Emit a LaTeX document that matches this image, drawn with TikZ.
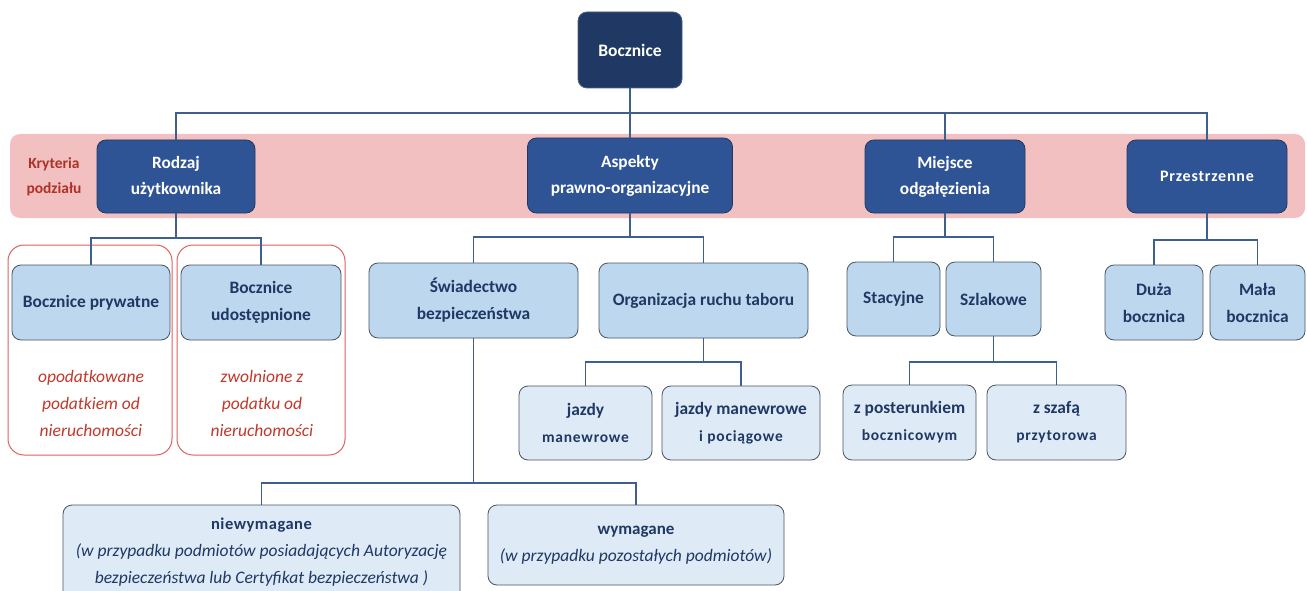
\documentclass[tikz,border=0pt]{standalone}
\usepackage{fontspec}
\setmainfont{Carlito}
\definecolor{navy}{HTML}{1F3864}
\definecolor{midblue}{HTML}{2F5496}
\definecolor{lb}{HTML}{BDD7EE}
\definecolor{llb}{HTML}{DEEBF7}
\definecolor{bandc}{HTML}{F2C0C0}
\definecolor{redtxt}{HTML}{C0392B}
\definecolor{redline}{HTML}{E06060}
\definecolor{lineblue}{HTML}{3F5F8F}
\definecolor{boxline}{HTML}{4A5560}
\newcommand{\subln}[1]{{\fontsize{15.5}{24}\selectfont\addfontfeature{LetterSpace=5}#1}}
\tikzset{
  x=1pt, y=-1pt,
  topbox/.style={rounded corners=9pt, fill=navy, draw=navy!80!white, line width=0.8pt, text=white, align=center, font=\fontsize{17.5}{27}\selectfont\bfseries, inner sep=0pt},
  lvlone/.style={rounded corners=9pt, fill=midblue, draw=navy, line width=0.8pt, text=white, align=center, font=\fontsize{17.3}{26}\selectfont\bfseries, inner sep=0pt},
  lvltwo/.style={rounded corners=9pt, fill=lb, draw=boxline, line width=0.8pt, text=navy, align=center, font=\fontsize{17.4}{27}\selectfont\bfseries, inner sep=0pt},
  lvlthree/.style={rounded corners=9pt, fill=llb, draw=boxline, line width=0.8pt, text=navy, align=center, font=\fontsize{17.4}{27}\selectfont\bfseries, inner sep=0pt},
  redframe/.style={rounded corners=16pt, draw=redline, line width=1pt, fill=white, inner sep=0pt},
  conn/.style={draw=lineblue, line width=1.1pt},
  redit/.style={text=redtxt, align=center, font=\fontsize{17.5}{27}\selectfont\itshape},
}
\begin{document}
\begin{tikzpicture}
\useasboundingbox (0,0) rectangle (1307,591);
\clip (0,0) rectangle (1307,591);
% band
\node[rounded corners=10pt, fill=bandc, minimum width=1295pt, minimum height=84pt, inner sep=0pt] (band) at (657.5,176) {};
\node[text=redtxt!90!black, align=center, font=\fontsize{15.5}{25}\selectfont\bfseries] (kryt) at (54,177) {Kryteria\\podziału};
% red frames
\node[redframe, minimum width=164pt, minimum height=210pt] (rf1) at (90,350) {};
\node[redframe, minimum width=168pt, minimum height=210pt] (rf2) at (261,350) {};
% top
\node[topbox, minimum width=104pt, minimum height=76pt] (root) at (630,50) {Bocznice};
% level one
\node[lvlone, minimum width=158pt, minimum height=73pt] (rodzaj) at (176,176.5) {Rodzaj\\użytkownika};
\node[lvlone, minimum width=205pt, minimum height=75pt] (asp) at (630,175.5) {Aspekty\\prawno-organizacyjne};
\node[lvlone, minimum width=160pt, minimum height=73pt] (miej) at (945,176.5) {Miejsce\\odgałęzienia};
\node[lvlone, minimum width=160pt, minimum height=73pt, font=\fontsize{16}{20}\selectfont\bfseries\addfontfeature{LetterSpace=5}] (przes) at (1207,176.5) {Przestrzenne};
% level two
\node[lvltwo, minimum width=158pt, minimum height=75pt] (bp) at (91,302.5) {Bocznice prywatne};
\node[lvltwo, minimum width=160pt, minimum height=75pt] (bu) at (261,302.5) {Bocznice\\udostępnione};
\node[lvltwo, minimum width=209pt, minimum height=75pt] (swi) at (473.5,300.5) {Świadectwo\\bezpieczeństwa};
\node[lvltwo, minimum width=209pt, minimum height=75pt] (org) at (703.5,300.5) {Organizacja ruchu taboru};
\node[lvltwo, minimum width=93pt, minimum height=74pt] (stac) at (893.5,299) {Stacyjne};
\node[lvltwo, minimum width=95pt, minimum height=74pt] (szl) at (993.5,299) {Szlakowe};
\node[lvltwo, minimum width=98pt, minimum height=75pt] (duza) at (1154,302.5) {Duża\\bocznica};
\node[lvltwo, minimum width=95pt, minimum height=75pt] (mala) at (1257.5,302.5) {Mała\\bocznica};
% red italic texts
\node[redit] (t1) at (91,403) {opodatkowane\\podatkiem od\\nieruchomości};
\node[redit] (t2) at (262,403) {zwolnione z\\podatku od\\nieruchomości};
% level three
\node[lvlthree, minimum width=133pt, minimum height=74pt] (jm) at (585.5,423) {jazdy\\\subln{manewrowe}};
\node[lvlthree, minimum width=158pt, minimum height=74pt] (jmp) at (741,423) {jazdy manewrowe\\\subln{i pociągowe}};
\node[lvlthree, minimum width=133pt, minimum height=75pt] (zpost) at (909.5,422.5) {z posterunkiem\\\subln{bocznicowym}};
\node[lvlthree, minimum width=139pt, minimum height=75pt] (zszaf) at (1056.5,422.5) {z szafą\\\subln{przytorowa}};
\node[lvlthree, minimum width=397pt, minimum height=95pt] (niew) at (261.5,552.5) {{\fontsize{16.5}{27}\selectfont\addfontfeature{LetterSpace=3}niewymagane}\\{\mdseries\itshape\fontsize{17.5}{27}\selectfont (w przypadku podmiotów posiadających Autoryzację}\\{\mdseries\itshape\fontsize{17.5}{27}\selectfont bezpieczeństwa lub Certyfikat bezpieczeństwa )}};
\node[lvlthree, minimum width=296pt, minimum height=80pt] (wym) at (636,545) {{\fontsize{17}{27}\selectfont wymagane}\\{\mdseries\itshape\fontsize{17.5}{27}\selectfont (w przypadku pozostałych podmiotów)}};
% bus coordinates
\coordinate (b0) at (630,113);
\coordinate (b1) at (176,238);
\coordinate (b2) at (630,237);
\coordinate (b3) at (945,237);
\coordinate (b4) at (1207,240);
\coordinate (b5) at (703.5,362);
\coordinate (b6) at (993.5,362);
\coordinate (b7) at (473.5,483);
% connectors
\draw[conn] (root.south) -- (b0);
\draw[conn] (b0) -| (rodzaj.north);
\draw[conn] (b0) -| (przes.north);
\draw[conn] (b0) -| (miej.north);
\draw[conn] (b0) -- (asp.north);
\draw[conn] (rodzaj.south) -- (b1);
\draw[conn] (b1) -| (bp.north);
\draw[conn] (b1) -| (bu.north);
\draw[conn] (asp.south) -- (b2);
\draw[conn] (b2) -| (swi.north);
\draw[conn] (b2) -| (org.north);
\draw[conn] (miej.south) -- (b3);
\draw[conn] (b3) -| (stac.north);
\draw[conn] (b3) -| (szl.north);
\draw[conn] (przes.south) -- (b4);
\draw[conn] (b4) -| (duza.north);
\draw[conn] (b4) -| (mala.north);
\draw[conn] (org.south) -- (b5);
\draw[conn] (b5) -| (jm.north);
\draw[conn] (b5) -| (jmp.north);
\draw[conn] (szl.south) -- (b6);
\draw[conn] (b6) -| (zpost.north);
\draw[conn] (b6) -| (zszaf.north);
\draw[conn] (swi.south) -- (b7);
\draw[conn] (b7) -| (niew.north);
\draw[conn] (b7) -| (wym.north);
\end{tikzpicture}
\end{document}
